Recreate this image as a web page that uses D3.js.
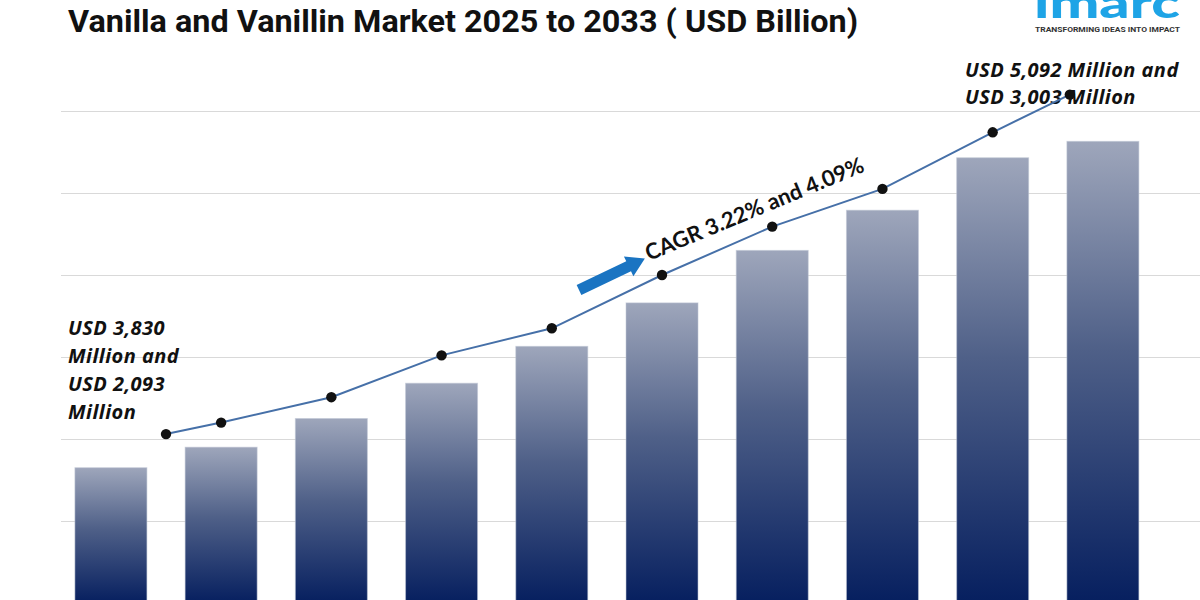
<!DOCTYPE html>
<html>
<head>
<meta charset="utf-8">
<script src="https://cdn.jsdelivr.net/npm/d3@7"></script>
<style>
  html, body { margin: 0; padding: 0; background: #ffffff; }
  svg { display: block; }
</style>
</head>
<body>
<div id="chart"></div>
<script>
// ---- Data ----
const years = [2024, 2025, 2026, 2027, 2028, 2029, 2030, 2031, 2032, 2033];
const marketValues = [1.65, 1.90, 2.25, 2.68, 3.13, 3.66, 4.30, 4.79, 5.43, 5.63];
const trendYears = [2024.5, 2025, 2026, 2027, 2028, 2029, 2030, 2031, 2032, 2032.7];
const trendValues = [2.06, 2.20, 2.51, 3.02, 3.35, 4.00, 4.59, 5.05, 5.74, 6.20];
const gridTicks = [1, 2, 3, 4, 5, 6];
const titleText = "Vanilla and Vanillin Market 2025 to 2033 ( USD Billion)";
const startLabel = ["USD 3,830", "Million and", "USD 2,093", "Million"];
const endLabel = ["USD 5,092 Million and", "USD 3,003 Million"];
const cagrLabel = "CAGR 3.22% and 4.09%";

const W = 1200, H = 600;
const svg = d3.select("#chart").append("svg").attr("width", W).attr("height", H);

// gradient for bars
const defs = svg.append("defs");
const grad = defs.append("linearGradient").attr("id", "barGrad")
  .attr("x1", 0).attr("y1", 0).attr("x2", 0).attr("y2", 1);
grad.append("stop").attr("offset", "0%").attr("stop-color", "#9ea6bb");
grad.append("stop").attr("offset", "45%").attr("stop-color", "#4f6088");
grad.append("stop").attr("offset", "100%").attr("stop-color", "#061f5f");

// scales
const x = d3.scaleBand().domain(years).range([55.8, 1158])
  .paddingInner(0.3468).paddingOuter(0.1734);
const bw = x.bandwidth();
const xLin = d3.scaleLinear().domain([years[0], years[years.length - 1]])
  .range([x(years[0]) + bw / 2, x(years[years.length - 1]) + bw / 2]);
const y = d3.scaleLinear().domain([0, 6]).range([603, 111]);

// gridlines
const grid = svg.append("g").attr("transform", "translate(61,0)")
  .call(d3.axisLeft(y).tickValues(gridTicks).tickSize(-(W - 61)).tickFormat(""));
grid.select(".domain").remove();
grid.selectAll(".tick line").attr("stroke", "#d9d9d9").attr("stroke-width", 1.2);

// bars
svg.append("g").selectAll("rect").data(years).join("rect")
  .attr("x", d => x(d))
  .attr("width", bw)
  .attr("y", (d, i) => y(marketValues[i]))
  .attr("height", (d, i) => y(0) - y(marketValues[i]))
  .attr("fill", "url(#barGrad)")
  .attr("stroke", "rgba(190,196,212,0.55)")
  .attr("stroke-width", 1);

// title
svg.append("text").attr("x", 68).attr("y", 32)
  .attr("font-family", "'Liberation Sans Narrow', Roboto, 'Liberation Sans', sans-serif")
  .attr("font-weight", "bold").attr("font-size", 31).attr("fill", "#111")
  .attr("textLength", 790).attr("lengthAdjust", "spacingAndGlyphs")
  .text(titleText);

// logo
svg.append("text").attr("x", 1034).attr("y", 18)
  .attr("font-family", "Lato, 'Open Sans', sans-serif").attr("font-weight", 900)
  .attr("font-size", 42).attr("fill", "#1ea4e6")
  .attr("textLength", 146).attr("lengthAdjust", "spacingAndGlyphs")
  .text("imarc");
svg.append("text").attr("x", 1035).attr("y", 32)
  .attr("font-family", "Roboto, 'Liberation Sans', sans-serif").attr("font-weight", "bold")
  .attr("font-size", 7.5).attr("fill", "#333")
  .attr("textLength", 145).attr("lengthAdjust", "spacingAndGlyphs")
  .text("TRANSFORMING IDEAS INTO IMPACT");

// annotations
const annFont = "'Open Sans', Lato, sans-serif";
svg.append("g").selectAll("text").data(startLabel).join("text")
  .attr("x", 68).attr("y", (d, i) => 335 + i * 28)
  .attr("font-family", annFont).attr("font-weight", "bold").attr("font-style", "italic")
  .attr("font-size", 20).attr("letter-spacing", 0.45).attr("fill", "#111")
  .text(d => d);
svg.append("g").selectAll("text").data(endLabel).join("text")
  .attr("x", 965).attr("y", (d, i) => 77 + i * 27)
  .attr("font-family", annFont).attr("font-weight", "bold").attr("font-style", "italic")
  .attr("font-size", 20).attr("letter-spacing", 0.45).attr("fill", "#111")
  .text(d => d);

// CAGR label and arrow
svg.append("text")
  .attr("transform", "translate(649,261) rotate(-22.5)")
  .attr("font-family", "Lato, 'Open Sans', sans-serif").attr("font-weight", "bold")
  .attr("font-size", 22).attr("fill", "#111")
  .text(cagrLabel);
const arrow = svg.append("g").attr("transform", "translate(579,290) rotate(-25.5)");
arrow.append("path")
  .attr("d", "M0,-5.5 L55,-5.5 L55,-11 L73,0 L55,11 L55,5.5 L0,5.5 Z")
  .attr("fill", "#1a74c2");

// trend line
const line = d3.line().x((d, i) => xLin(trendYears[i])).y((d, i) => y(trendValues[i]));
svg.append("path").datum(trendValues).attr("d", line)
  .attr("fill", "none").attr("stroke", "#4670a8").attr("stroke-width", 2);
svg.append("g").selectAll("circle").data(trendValues).join("circle")
  .attr("cx", (d, i) => xLin(trendYears[i]))
  .attr("cy", d => y(d))
  .attr("r", 5.2)
  .attr("fill", "#111");
</script>
</body>
</html>
